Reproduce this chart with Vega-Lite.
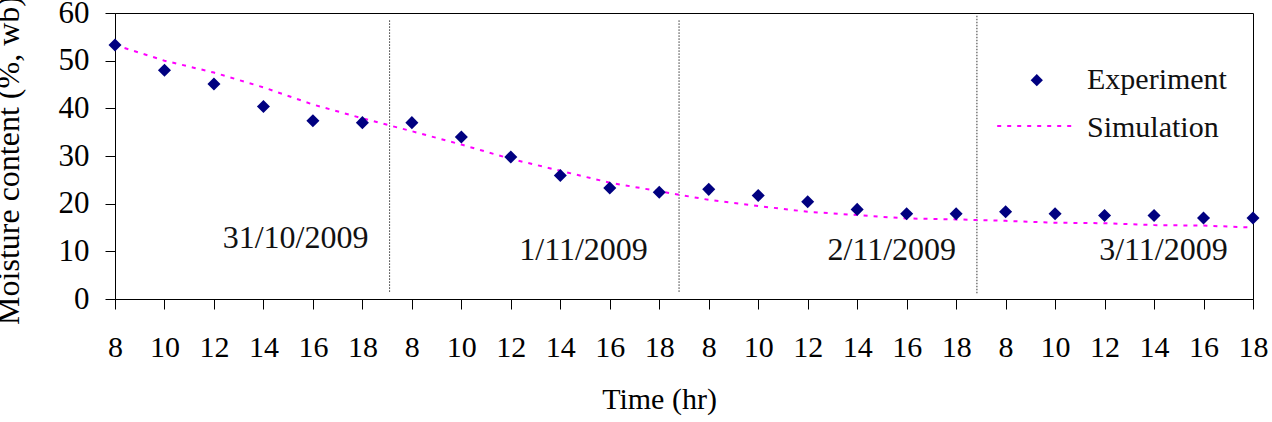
{
  "$schema": "https://vega.github.io/schema/vega-lite/v6.json",
  "autosize": "none",
  "width": 1138,
  "height": 286,
  "padding": {"left": 115, "top": 13, "right": 19, "bottom": 123},
  "background": "white",
  "config": {
    "font": "Liberation Serif",
    "view": {"stroke": "black", "strokeWidth": 1},
    "text": {"font": "Liberation Serif"},
    "axis": {"grid": false, "domainColor": "black", "tickColor": "black", "labelColor": "black", "titleColor": "black", "labelFont": "Liberation Serif", "titleFont": "Liberation Serif", "titleFontWeight": "normal"}
  },
  "datasets": {
    "exp": [
      {"t": 0, "mc": 53.3}, {"t": 1, "mc": 48.0}, {"t": 2, "mc": 45.1}, {"t": 3, "mc": 40.4}, {"t": 4, "mc": 37.4}, {"t": 5, "mc": 37.0},
      {"t": 6, "mc": 37.0}, {"t": 7, "mc": 34.0}, {"t": 8, "mc": 29.8}, {"t": 9, "mc": 25.9}, {"t": 10, "mc": 23.3}, {"t": 11, "mc": 22.4},
      {"t": 12, "mc": 23.0}, {"t": 13, "mc": 21.7}, {"t": 14, "mc": 20.4}, {"t": 15, "mc": 18.8}, {"t": 16, "mc": 17.9}, {"t": 17, "mc": 17.9},
      {"t": 18, "mc": 18.3}, {"t": 19, "mc": 17.9}, {"t": 20, "mc": 17.5}, {"t": 21, "mc": 17.5}, {"t": 22, "mc": 17.0}, {"t": 23, "mc": 17.0}
    ],
    "sim": [
      {"t": 0, "mc": 53.3}, {"t": 1, "mc": 50.0}, {"t": 2, "mc": 47.5}, {"t": 3, "mc": 44.4}, {"t": 4, "mc": 40.8}, {"t": 5, "mc": 37.9},
      {"t": 6, "mc": 35.2}, {"t": 7, "mc": 32.4}, {"t": 8, "mc": 29.4}, {"t": 9, "mc": 26.9}, {"t": 10, "mc": 24.4}, {"t": 11, "mc": 22.6},
      {"t": 12, "mc": 20.8}, {"t": 13, "mc": 19.5}, {"t": 14, "mc": 18.3}, {"t": 15, "mc": 17.6}, {"t": 16, "mc": 16.9}, {"t": 17, "mc": 16.7},
      {"t": 18, "mc": 16.4}, {"t": 19, "mc": 16.0}, {"t": 20, "mc": 15.9}, {"t": 21, "mc": 15.5}, {"t": 22, "mc": 15.4}, {"t": 23, "mc": 15.0}
    ],
    "dividers": [
      {"t": 5.55, "y1": 1.5, "y2": 58.5},
      {"t": 11.4, "y1": 1.5, "y2": 58.5},
      {"t": 17.42, "y1": 1.2, "y2": 59.5}
    ],
    "dates": [
      {"t": 3.65, "mc": 10.7, "label": "31/10/2009"},
      {"t": 9.47, "mc": 8.2, "label": "1/11/2009"},
      {"t": 15.7, "mc": 8.2, "label": "2/11/2009"},
      {"t": 21.19, "mc": 8.2, "label": "3/11/2009"}
    ],
    "legendSym": [{"t": 18.63, "mc": 45.9}],
    "legendLine": [{"t": 17.83, "t2": 19.38, "mc": 36.3}],
    "legendText": [
      {"t": 19.645, "mc": 44.06, "label": "Experiment"},
      {"t": 19.645, "mc": 34.0, "label": "Simulation"}
    ]
  },
  "encoding": {
    "x": {
      "field": "t", "type": "quantitative",
      "scale": {"domain": [0, 23], "nice": false, "zero": false},
      "axis": {
        "title": "Time (hr)", "values": [0,1,2,3,4,5,6,7,8,9,10,11,12,13,14,15,16,17,18,19,20,21,22,23],
        "labelExpr": "'' + (8 + 2 * (datum.value % 6))",
        "labelFontSize": 30, "labelPadding": 23, "tickSize": 10, "labelFlush": false, "labelOverlap": false,
        "titleFontSize": 30, "titleX": 544, "titleY": 109, "titleBaseline": "alphabetic", "titleAnchor": "middle", "titleAlign": "center"
      }
    },
    "y": {
      "field": "mc", "type": "quantitative",
      "scale": {"domain": [0, 60], "nice": false},
      "axis": {
        "title": "Moisture content (%, wb)", "values": [0,10,20,30,40,50,60],
        "labelFontSize": 31, "labelPadding": 16, "tickSize": 10, "labelFlush": false, "labelOverlap": false,
        "titleFontSize": 32, "titleX": -97, "titleY": 147, "titleBaseline": "alphabetic", "titleAngle": -90, "titleAlign": "center"
      }
    }
  },
  "layer": [
    {
      "data": {"name": "dividers"},
      "mark": {"type": "rule", "color": "#333333", "strokeWidth": 1, "strokeDash": [1.5, 1.5]},
      "encoding": {"y": {"field": "y1", "type": "quantitative"}, "y2": {"field": "y2"}}
    },
    {
      "data": {"name": "sim"},
      "mark": {"type": "line", "color": "#FF00FF", "strokeWidth": 2, "strokeDash": [4, 6]}
    },
    {
      "data": {"name": "exp"},
      "mark": {"type": "point", "shape": "diamond", "filled": true, "color": "#000080", "size": 170, "opacity": 1}
    },
    {
      "data": {"name": "dates"},
      "mark": {"type": "text", "fontSize": 32, "align": "center", "baseline": "alphabetic", "color": "#111111", "font": "Liberation Serif"},
      "encoding": {"text": {"field": "label"}}
    },
    {
      "data": {"name": "legendSym"},
      "mark": {"type": "point", "shape": "diamond", "filled": true, "color": "#000080", "size": 150, "opacity": 1}
    },
    {
      "data": {"name": "legendLine"},
      "mark": {"type": "rule", "color": "#FF00FF", "strokeWidth": 2, "strokeDash": [4, 6]},
      "encoding": {"x2": {"field": "t2"}}
    },
    {
      "data": {"name": "legendText"},
      "mark": {"type": "text", "fontSize": 30, "align": "left", "baseline": "alphabetic", "color": "#111111", "font": "Liberation Serif"},
      "encoding": {"text": {"field": "label"}}
    }
  ]
}
